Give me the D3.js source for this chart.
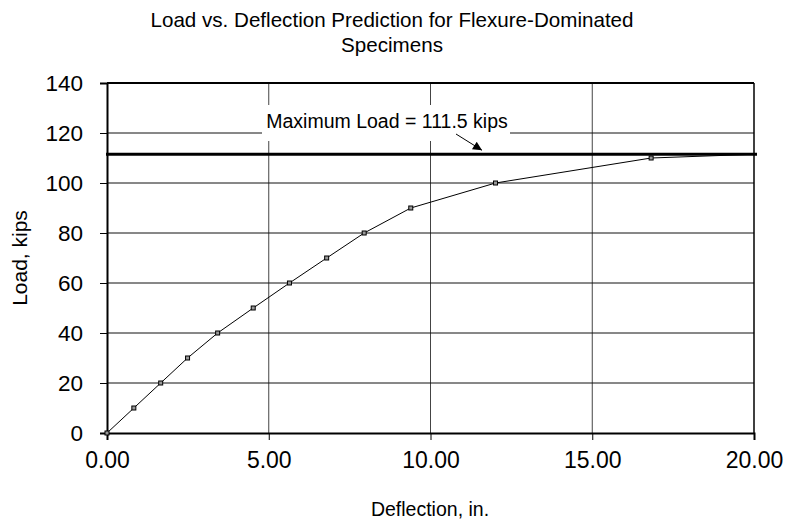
<!DOCTYPE html>
<html>
<head>
<meta charset="utf-8">
<script src="https://cdn.jsdelivr.net/npm/d3@7"></script>
<style>
  body { margin: 0; background: #fff; }
  svg text { font-family: "Liberation Sans", Arial, sans-serif; fill: #000; }
</style>
</head>
<body>
<script>
// data
let deflection = [0, 0.83, 1.66, 2.49, 3.42, 4.52, 5.64, 6.79, 7.95, 9.39, 12.01, 16.82, 20]
let load = [0, 10, 20, 30, 40, 50, 60, 70, 80, 90, 100, 110, 111.5]
let maxLoad = 111.5
let xTicks = [0, 5, 10, 15, 20]
let yTicks = [0, 20, 40, 60, 80, 100, 120, 140]
let titleLines = ["Load vs. Deflection Prediction for Flexure-Dominated", "Specimens"]

let points = deflection.map((d, i) => [d, load[i]])

let w = 785, h = 525
let m = {left: 107, right: 31, top: 83, bottom: 92}

let svg = d3.select("body").append("svg")
    .attr("width", w)
    .attr("height", h)

let xScale = d3.scaleLinear().domain([0, 20]).range([m.left, w - m.right])
let yScale = d3.scaleLinear().domain([0, 140]).range([h - m.bottom, m.top])

// gridlines
svg.append("g").selectAll("line")
    .data(xTicks.slice(1, -1))
    .enter().append("line")
    .attr("x1", d => xScale(d)).attr("x2", d => xScale(d))
    .attr("y1", yScale(140)).attr("y2", yScale(0))
    .attr("stroke", "#444").attr("stroke-width", 1)
svg.append("g").selectAll("line")
    .data(yTicks.slice(1, -1))
    .enter().append("line")
    .attr("x1", xScale(0)).attr("x2", xScale(20))
    .attr("y1", d => yScale(d)).attr("y2", d => yScale(d))
    .attr("stroke", "#111").attr("stroke-width", 1)

// frame
svg.append("line")
    .attr("x1", xScale(0)).attr("x2", xScale(20))
    .attr("y1", yScale(140)).attr("y2", yScale(140))
    .attr("stroke", "#000").attr("stroke-width", 2)
svg.append("line")
    .attr("x1", xScale(20)).attr("x2", xScale(20))
    .attr("y1", yScale(140)).attr("y2", yScale(0))
    .attr("stroke", "#000").attr("stroke-width", 1.5)

// label box for the maximum load note
svg.append("rect")
    .attr("x", 262).attr("y", 105)
    .attr("width", 248).attr("height", 36)
    .attr("fill", "#fff")
svg.append("text")
    .attr("x", 387).attr("y", 128)
    .attr("text-anchor", "middle")
    .attr("font-size", 19.5)
    .text(`Maximum Load = ${maxLoad} kips`)

// arrow
svg.append("defs").append("marker")
    .attr("id", "arrow")
    .attr("viewBox", "0 0 10 10")
    .attr("refX", 10).attr("refY", 5)
    .attr("markerWidth", 13).attr("markerHeight", 9)
    .attr("markerUnits", "userSpaceOnUse")
    .attr("orient", "auto")
    .append("path").attr("d", "M0,0L10,5L0,10z").attr("fill", "#000")
svg.append("line")
    .attr("x1", 456).attr("y1", 134)
    .attr("x2", 482).attr("y2", yScale(maxLoad) - 4)
    .attr("stroke", "#000").attr("stroke-width", 1)
    .attr("marker-end", "url(#arrow)")

// axes
let xAxis = d3.axisBottom(xScale).tickValues(xTicks).tickFormat(d3.format(".2f")).tickSizeOuter(0).tickSize(7).tickPadding(12)
let yAxis = d3.axisLeft(yScale).tickValues(yTicks).tickSizeOuter(0).tickSize(7).tickPadding(17)

let gx = svg.append("g")
    .attr("transform", `translate(0, ${yScale(0)})`)
    .call(xAxis)
gx.select(".domain").attr("stroke-width", 2)
gx.selectAll("text").attr("font-size", 23).attr("font-family", "Liberation Sans, Arial, sans-serif")

let gy = svg.append("g")
    .attr("transform", `translate(${xScale(0)}, 0)`)
    .call(yAxis)
gy.select(".domain").attr("stroke-width", 2)
gy.selectAll("text").attr("font-size", 22.5).attr("font-family", "Liberation Sans, Arial, sans-serif")

// max load line
svg.append("line")
    .attr("x1", xScale(0) - 1).attr("x2", xScale(20) + 3)
    .attr("y1", yScale(maxLoad)).attr("y2", yScale(maxLoad))
    .attr("stroke", "#000").attr("stroke-width", 3)

// curve
svg.append("path")
    .datum(points)
    .attr("fill", "none")
    .attr("stroke", "#000")
    .attr("stroke-width", 1)
    .attr("d", d3.line().x(d => xScale(d[0])).y(d => yScale(d[1])))
svg.append("g").selectAll("rect")
    .data(points.slice(0, -1))
    .enter().append("rect")
    .attr("x", d => xScale(d[0]) - 2)
    .attr("y", d => yScale(d[1]) - 2)
    .attr("width", 4).attr("height", 4)
    .attr("fill", "#999").attr("stroke", "#000").attr("stroke-width", 1)

// titles
let title = svg.append("text")
    .attr("text-anchor", "middle")
    .attr("font-size", 20.6)
title.selectAll("tspan")
    .data(titleLines)
    .enter().append("tspan")
    .attr("x", 392)
    .attr("y", (d, i) => 27 + i * 25)
    .text(d => d)

svg.append("text")
    .attr("x", 430).attr("y", 516)
    .attr("text-anchor", "middle")
    .attr("font-size", 19.5)
    .text("Deflection, in.")

svg.append("text")
    .attr("transform", `translate(27, ${yScale(70)}) rotate(-90)`)
    .attr("text-anchor", "middle")
    .attr("font-size", 21)
    .text("Load, kips")
</script>
</body>
</html>
